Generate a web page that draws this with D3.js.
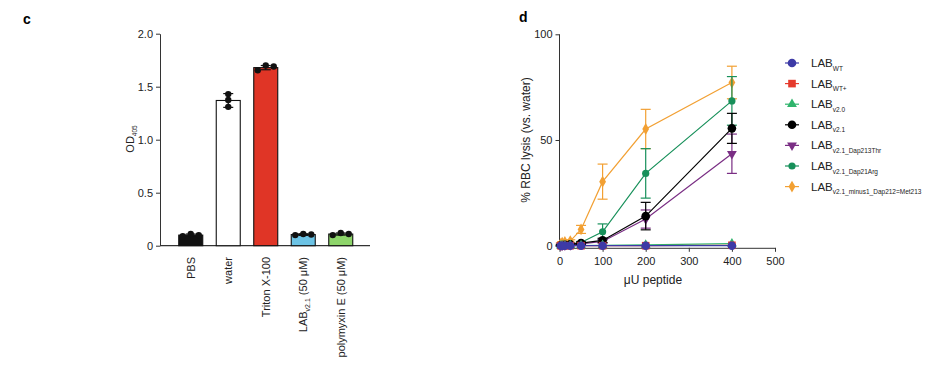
<!DOCTYPE html>
<html><head><meta charset="utf-8">
<script src="https://cdn.jsdelivr.net/npm/d3@7/dist/d3.min.js"></script>
<style>body{margin:0;background:#fff;} svg{display:block;font-family:"Liberation Sans",Arial,Helvetica,sans-serif;}</style>
</head><body>
<svg id="chart" width="936" height="366"></svg>
<script>
// ---------- Panel c data ----------
const barCategories = ["PBS", "water", "Triton X-100", "LAB_v2.1", "polymyxin E"];
const barMeans = [0.10, 1.37, 1.68, 0.105, 0.11];
const barSD = [0.01, 0.065, 0.02, 0.008, 0.01];
const barReplicates = [[0.09, 0.11, 0.10], [1.31, 1.375, 1.43], [1.655, 1.70, 1.69], [0.10, 0.11, 0.105], [0.10, 0.12, 0.11]];
const barColors = ["#111111", "#ffffff", "#e03526", "#6cc3e5", "#8dd46a"];
const barYTicks = [0, 0.5, 1.0, 1.5, 2.0];
const barYTickLabels = ["0", "0.5", "1.0", "1.5", "2.0"];

// ---------- Panel d data ----------
const doseX = [3.125, 6.25, 12.5, 25, 50, 100, 200, 400];
const seriesNames = ["WT", "WT+", "v2.0", "v2.1", "v2.1_Dap213Thr", "v2.1_Dap21Arg", "v2.1_minus1_Dap212=Met213"];
const seriesColors = ["#3d3aa6", "#e53a2c", "#2fb46c", "#000000", "#7a2e84", "#17905a", "#f2a033"];
const seriesShapes = ["circle", "square", "triangle", "circle", "triangleDown", "circleSmall", "diamond"];
const valWT = [0, 0, 0, 0, 0, 0, 0, 0];
const valWTplus = [0, 0, 0, 0, 0, 0, 0, 0.2];
const valV20 = [0, 0, 0, 0.1, 0.1, 0.2, 0.4, 1.0];
const valV21 = [0.2, 0.3, 0.4, 0.6, 1.2, 2.5, 14.0, 55.5];
const sdV21 = [0.2, 0.2, 0.3, 0.3, 0.5, 1.0, 6.5, 7.1];
const valThr = [0, 0, 0.2, 0.3, 0.8, 2.0, 12.6, 43.5];
const sdThr = [0.1, 0.1, 0.1, 0.2, 0.4, 0.8, 4.3, 9.3];
const valArg = [0.3, 0.4, 0.5, 0.8, 1.5, 6.6, 34.2, 68.5];
const sdArg = [0.2, 0.2, 0.2, 0.3, 0.5, 3.7, 11.7, 11.5];
const valMet = [1.0, 1.5, 1.8, 2.2, 7.7, 30.3, 55.2, 77.2];
const sdMet = [0.3, 0.4, 0.5, 0.6, 1.9, 8.3, 9.3, 7.7];
const zeros = [0, 0, 0, 0, 0, 0, 0, 0];
const seriesValues = [valWT, valWTplus, valV20, valV21, valThr, valArg, valMet];
const seriesSD = [zeros, zeros, zeros, sdV21, sdThr, sdArg, sdMet];
const lineXTicks = [0, 100, 200, 300, 400, 500];
const lineYTicks = [0, 50, 100];

const svg = d3.select("#chart");

// ================= Panel c =================
svg.append("text").attr("x", 23).attr("y", 24).attr("font-weight", "bold").attr("font-size", 14).text("c");

const cY = d3.scaleLinear().domain([0, 2]).range([245.7, 33.7]);
const cX = d3.scaleBand().domain(barCategories).range([172, 359.5]).paddingInner(0.36).paddingOuter(0.18);
const axisColor = "#333";

const gc = svg.append("g");
// y axis
gc.append("g").attr("transform", "translate(160,0)")
  .call(d3.axisLeft(cY).tickValues(barYTicks).tickFormat((d, i) => barYTickLabels[i]).tickSize(4).tickSizeOuter(0))
  .call(g => { g.select(".domain").attr("stroke", axisColor); g.selectAll("line").attr("stroke", axisColor);
    g.selectAll("text").attr("font-size", 11).attr("fill", "#222").attr("font-family", "Liberation Sans, Arial, sans-serif"); });
// x axis line
gc.append("line").attr("x1", 160).attr("x2", 370).attr("y1", cY(0)).attr("y2", cY(0)).attr("stroke", axisColor).attr("stroke-width", 1.2);

// bars
gc.selectAll("rect.bar").data(barCategories).enter().append("rect")
  .attr("x", d => cX(d)).attr("width", cX.bandwidth())
  .attr("y", (d, i) => cY(barMeans[i])).attr("height", (d, i) => cY(0) - cY(barMeans[i]))
  .attr("fill", (d, i) => barColors[i]).attr("stroke", "#111").attr("stroke-width", 1.1);

// error bars
barCategories.forEach((c, i) => {
  const cx = cX(c) + cX.bandwidth() / 2;
  const hi = cY(barMeans[i] + barSD[i]), lo = cY(barMeans[i] - barSD[i]);
  gc.append("line").attr("x1", cx).attr("x2", cx).attr("y1", hi).attr("y2", lo).attr("stroke", "#111").attr("stroke-width", 1.2);
  [hi, lo].forEach(y => gc.append("line").attr("x1", cx - 5).attr("x2", cx + 5).attr("y1", y).attr("y2", y).attr("stroke", "#111").attr("stroke-width", 1.2));
  const offs = i === 1 ? [0, 0, 0] : [-8, 0, 8];
  barReplicates[i].forEach((v, j) => {
    gc.append("circle").attr("cx", cx + offs[j]).attr("cy", cY(v)).attr("r", 3.2).attr("fill", "#111");
  });
});

// x labels
barCategories.forEach((c, i) => {
  const cx = cX(c) + cX.bandwidth() / 2;
  const t = gc.append("text").attr("transform", `translate(${cx + 4},257) rotate(-90)`)
    .attr("text-anchor", "end").attr("font-size", 11).attr("fill", "#222");
  if (c === "LAB_v2.1") {
    t.append("tspan").text("LAB");
    t.append("tspan").attr("font-size", 7).attr("dy", 3).text("v2.1");
    t.append("tspan").attr("dy", -3).text(" (50 μM)");
  } else if (c === "polymyxin E") {
    t.text("polymyxin E (50 μM)");
  } else t.text(c);
});

// y label
const cyl = gc.append("text").attr("transform", `translate(134,139) rotate(-90)`).attr("text-anchor", "middle").attr("font-size", 11).attr("fill", "#222");
cyl.append("tspan").text("OD");
cyl.append("tspan").attr("font-size", 6.5).attr("dy", 3).text("405");

// ================= Panel d =================
svg.append("text").attr("x", 519).attr("y", 22).attr("font-weight", "bold").attr("font-size", 14).text("d");

const dX = d3.scaleLinear().domain([0, 500]).range([559.5, 775]);
const dY = d3.scaleLinear().domain([-1, 100]).range([247.8, 34.3]);
const gd = svg.append("g");

gd.append("g").attr("transform", "translate(559.5,0)")
  .call(d3.axisLeft(dY).tickValues(lineYTicks).tickSize(4).tickSizeOuter(0))
  .call(g => { g.select(".domain").attr("stroke", axisColor).attr("d", `M0,${dY(-1)}V${dY(100)}`); g.selectAll("line").attr("stroke", axisColor);
    g.selectAll("text").attr("font-size", 11).attr("fill", "#222").attr("font-family", "Liberation Sans, Arial, sans-serif"); });
gd.append("g").attr("transform", `translate(0,${dY(-1)})`)
  .call(d3.axisBottom(dX).tickValues(lineXTicks).tickSize(4).tickSizeOuter(0))
  .call(g => { g.select(".domain").attr("stroke", axisColor); g.selectAll("line").attr("stroke", axisColor);
    g.selectAll("text").attr("font-size", 11).attr("fill", "#222").attr("dy", "0.9em").attr("font-family", "Liberation Sans, Arial, sans-serif"); });

gd.append("text").attr("x", 653).attr("y", 284).attr("text-anchor", "middle").attr("font-size", 12).attr("fill", "#222").text("μU peptide");
gd.append("text").attr("transform", "translate(530,140) rotate(-90)").attr("text-anchor", "middle").attr("font-size", 12).attr("fill", "#222").text("% RBC lysis (vs. water)");

function drawMarker(g, shape, x, y, color) {
  if (shape === "circle") g.append("circle").attr("cx", x).attr("cy", y).attr("r", 4.3).attr("fill", color);
  else if (shape === "circleSmall") g.append("circle").attr("cx", x).attr("cy", y).attr("r", 3.6).attr("fill", color);
  else if (shape === "square") g.append("rect").attr("x", x - 3.8).attr("y", y - 3.8).attr("width", 7.6).attr("height", 7.6).attr("fill", color);
  else {
    const sym = shape === "diamond" ? d3.symbolDiamond : d3.symbolTriangle;
    const size = shape === "diamond" ? 40 : 42;
    const rot = shape === "triangleDown" ? 180 : 0;
    g.append("path").attr("d", d3.symbol().type(sym).size(size)()).attr("transform", `translate(${x},${y}) rotate(${rot})`).attr("fill", color);
  }
}

const line = d3.line().x(d => dX(d[0])).y(d => dY(d[1]));
for (let s = seriesNames.length - 1; s >= 0; s--) {
  const color = seriesColors[s];
  const pts = doseX.map((x, i) => [x, seriesValues[s][i]]);
  const gs = gd.append("g");
  // error bars
  doseX.forEach((x, i) => {
    const sd = seriesSD[s][i];
    if (sd > 0) {
      const cx = dX(x), hi = dY(seriesValues[s][i] + sd), lo = dY(seriesValues[s][i] - sd);
      gs.append("line").attr("x1", cx).attr("x2", cx).attr("y1", hi).attr("y2", lo).attr("stroke", color).attr("stroke-width", 1.2);
      [hi, lo].forEach(y => gs.append("line").attr("x1", cx - 5).attr("x2", cx + 5).attr("y1", y).attr("y2", y).attr("stroke", color).attr("stroke-width", 1.2));
    }
  });
  gs.append("path").datum(pts).attr("d", line).attr("fill", "none").attr("stroke", color).attr("stroke-width", 1.2);
  pts.forEach(p => drawMarker(gs, seriesShapes[s], dX(p[0]), dY(p[1]), color));
}

// legend
const lg = svg.append("g");
seriesNames.forEach((n, i) => {
  const y = 63 + i * 20.6;
  lg.append("line").attr("x1", 785).attr("x2", 799).attr("y1", y).attr("y2", y).attr("stroke", seriesColors[i]).attr("stroke-width", 1.2);
  drawMarker(lg, seriesShapes[i], 792, y, seriesColors[i]);
  const t = lg.append("text").attr("x", 811).attr("y", y + 4).attr("font-size", 11.5).attr("fill", "#222");
  t.append("tspan").text("LAB");
  t.append("tspan").attr("font-size", 6.5).attr("dy", 3.5).text(n);
});
</script>
</body></html>
